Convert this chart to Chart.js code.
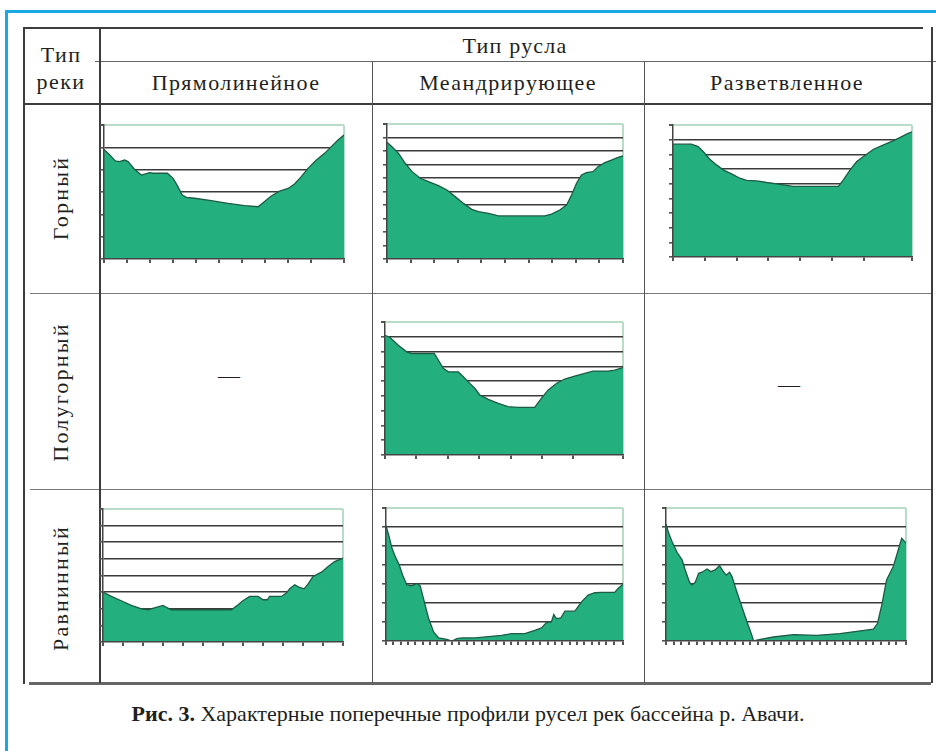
<!doctype html>
<html lang="ru">
<head>
<meta charset="utf-8">
<title>Поперечные профили русел</title>
<script src="https://cdn.jsdelivr.net/npm/chart.js@4"></script>
<style>
  body { margin:0; width:936px; height:751px; background:#fff; position:relative; overflow:hidden;
         font-family:"Liberation Serif","Tinos","Times New Roman","DejaVu Serif",serif; color:#231f20; }
  .ln { position:absolute; background:#3c3c3c; }
  .blue { position:absolute; background:#19a8e2; }
  .txt { position:absolute; font-size:22px; line-height:1; white-space:nowrap; transform:translate(-50%,-50%); letter-spacing:1.4px; }
  .rot { transform:translate(-50%,-50%) rotate(-90deg); letter-spacing:2.2px; }
  .cap { font-size:22px; letter-spacing:0; }
  canvas { position:absolute; }
</style>
</head>
<body>
<!-- frame -->
<div class="blue" style="left:5px;top:10px;width:931px;height:3px"></div>
<div class="blue" style="left:5px;top:10px;width:3px;height:741px"></div>

<!-- table lines -->
<div class="ln" style="left:23px;top:27px;width:900px;height:1.5px"></div>
<div class="ln" style="left:95px;top:61px;width:841px;height:1px;background:#666"></div>
<div class="ln" style="left:23px;top:103px;width:908px;height:1.5px"></div>
<div class="ln" style="left:30px;top:293px;width:901px;height:1px;background:#777"></div>
<div class="ln" style="left:30px;top:489px;width:901px;height:1px;background:#777"></div>
<div class="ln" style="left:29px;top:682px;width:902px;height:2.5px;background:#666"></div>
<div class="ln" style="left:23px;top:27px;width:1.5px;height:657px"></div>
<div class="ln" style="left:99px;top:27px;width:1.5px;height:656px"></div>
<div class="ln" style="left:372px;top:62px;width:1px;height:621px;background:#555"></div>
<div class="ln" style="left:644px;top:62px;width:1px;height:621px;background:#555"></div>
<div class="ln" style="left:931px;top:27px;width:1.5px;height:656px"></div>

<!-- header texts -->
<div class="txt" style="left:515px;top:46px;letter-spacing:1.2px">Тип русла</div>
<div class="txt" style="left:61px;top:55px">Тип</div>
<div class="txt" style="left:61px;top:82px">реки</div>
<div class="txt" style="left:236px;top:83px">Прямолинейное</div>
<div class="txt" style="left:508px;top:83px">Меандрирующее</div>
<div class="txt" style="left:787px;top:83px">Разветвленное</div>
<div class="txt rot" style="left:61px;top:198px">Горный</div>
<div class="txt rot" style="left:61px;top:392px">Полугорный</div>
<div class="txt rot" style="left:61px;top:588px">Равнинный</div>
<div class="txt" style="left:229px;top:376px;letter-spacing:0">—</div>
<div class="txt" style="left:789px;top:385px;letter-spacing:0">—</div>
<div class="txt cap" style="left:468px;top:714px"><b>Рис. 3.</b> Характерные поперечные профили русел рек бассейна р. Авачи.</div>

<canvas id="c1"></canvas>
<canvas id="c2"></canvas>
<canvas id="c3"></canvas>
<canvas id="c4"></canvas>
<canvas id="c5"></canvas>
<canvas id="c6"></canvas>
<canvas id="c7"></canvas>

<script>
// profile data: x = % of section width, y = height in grid steps
// Горный / Прямолинейное
var gpX = [0,2.4,4.7,6.5,8.6,10,12.8,15.6,19,20.4,26.4,28.8,30.8,32.5,34.3,37.8,44.7,51.7,58.6,64.2,66.9,69.7,73.2,76.7,79.4,82.2,85,88.5,91.9,94.7,97.5,100];
var gpY = [4.91,4.66,4.39,4.36,4.43,4.36,4.01,3.76,3.87,3.84,3.84,3.61,3.24,2.87,2.76,2.72,2.61,2.49,2.39,2.34,2.57,2.82,3.04,3.16,3.36,3.69,4.06,4.43,4.73,5.03,5.33,5.55];
// Горный / Меандрирующее
var gmX = [0,2.1,4.9,7.7,10.6,14.1,17.6,21.8,25.4,28.9,32.4,35.9,38.7,43,47.2,54.2,66.9,69.7,73.2,76.1,78.2,80.3,82.4,84.5,87.3,89.4,92.3,95.1,97.9,100];
var gmY = [8.64,8.32,7.83,7.09,6.47,5.98,5.73,5.43,5.11,4.62,4.12,3.68,3.51,3.38,3.19,3.19,3.19,3.33,3.63,4.0,4.74,5.6,6.22,6.4,6.47,6.84,7.14,7.33,7.53,7.63];
// Горный / Разветвленное
var grX = [0,7.7,10.5,12.6,15.4,18.2,21,24.5,28,30.8,35,39.2,43.4,50.3,57.3,69.2,71.3,74.1,76.9,79.7,83.9,88.1,92.3,95.1,97.9,100];
var grY = [7.69,7.69,7.53,7.19,6.67,6.28,5.94,5.67,5.37,5.22,5.19,5.08,4.99,4.81,4.81,4.81,5.26,5.94,6.51,6.85,7.35,7.64,7.94,8.16,8.39,8.53];
// Полугорный / Меандрирующее
var pmX = [0,2.1,5.6,9.1,11.2,15.4,20.7,22.4,24.5,26.6,30.8,32.9,35,37.8,39.9,43.4,47.6,51.7,55.9,62.9,65.7,68.5,72,75.5,79.7,83.9,87.4,93.7,96.5,100];
var pmY = [8.1,7.95,7.43,6.98,6.87,6.87,6.87,6.42,5.86,5.63,5.63,5.29,4.95,4.5,4.05,3.76,3.49,3.27,3.22,3.22,3.83,4.39,4.84,5.14,5.34,5.52,5.68,5.68,5.74,5.92];
// Равнинный / Прямолинейное
var rpX = [0,3.5,7.6,11.8,16,18.8,22.2,25,26.4,28.5,38.2,53.5,56.3,58.3,61.1,64.6,66.7,68.5,69.4,74.3,76.4,77.8,79.9,81.9,83.8,85.4,87.5,91,93.8,96.5,100];
var rpY = [3.0,2.74,2.48,2.2,2.0,1.94,2.08,2.2,2.08,1.94,1.94,1.94,2.24,2.48,2.74,2.74,2.54,2.54,2.74,2.74,2.94,3.2,3.44,3.28,3.2,3.48,3.94,4.2,4.54,4.84,5.04];
// Равнинный / Меандрирующее
var rmX = [0,1.1,2.5,3.9,5.6,7,8.8,10.9,13,14.4,15.8,18,20.1,22.2,25.7,27.8,29.9,32,37.6,43.2,48.8,53,58.6,62.8,65.6,67.7,69.8,70.8,71.9,73.8,75.5,79.7,82.5,85.3,88.1,90.9,96.5,97.9,100];
var rmY = [6.08,5.59,4.89,4.44,4.0,3.47,2.95,2.91,3.03,2.91,2.24,1.18,0.48,0.16,0.09,0,0.12,0.16,0.16,0.23,0.3,0.39,0.39,0.56,0.69,0.97,1.01,1.39,1.18,1.22,1.57,1.57,2.06,2.42,2.54,2.56,2.56,2.77,2.98];
// Равнинный / Разветвленное
var rrX = [0,1.1,2.5,4.6,6.7,8,9.8,10.8,12.2,13.6,15,17.1,18.7,20.5,22.3,23.7,25.1,26.5,27.5,29.5,31.6,34,35.4,36.5,39.3,44.8,53.1,62.8,72.5,79.5,86.4,88.1,89.9,91.9,94.7,96.8,98.2,99.2,100];
var rrY = [6.16,5.68,5.24,4.67,4.27,3.74,3.09,2.95,3.09,3.56,3.62,3.79,3.65,3.74,3.97,3.69,3.47,3.62,3.39,2.59,1.8,0.92,0.44,0,0.09,0.21,0.34,0.3,0.39,0.51,0.62,0.92,1.89,3.21,3.92,4.8,5.41,5.27,5.15];

var borderLight = '#b8dcc8';

function makeProfile(id, box, xs, ys, yMax, xStep) {
  var cv = document.getElementById(id);
  cv.width = box.w + 8;
  cv.height = box.h + 8;
  cv.style.left = (box.left - 6) + 'px';
  cv.style.top = (box.top - 2) + 'px';
  var pts = xs.map(function(x, i) { return { x: x, y: ys[i] }; });
  new Chart(cv, {
    type: 'line',
    data: { datasets: [{
      data: pts,
      fill: 'origin',
      backgroundColor: '#23af7e',
      borderColor: '#1c5c45',
      borderWidth: 1.3,
      pointRadius: 0,
      tension: 0
    }] },
    options: {
      responsive: false,
      animation: false,
      layout: { padding: { top: 2, right: 2, left: 0, bottom: 0 } },
      plugins: { legend: { display: false }, tooltip: { enabled: false } },
      scales: {
        x: {
          type: 'linear', min: 0, max: 100,
          ticks: { display: false, stepSize: xStep, maxTicksLimit: 1000 },
          grid: {
            color: function(c) { return c.tick && c.tick.value === 100 ? borderLight : 'rgba(0,0,0,0)'; },
            lineWidth: 2, tickColor: '#555', tickLength: 4
          },
          border: { color: '#444', width: 1.5, z: 1 },
          afterFit: function(s) { s.height = 6; }
        },
        y: {
          type: 'linear', min: 0, max: yMax,
          ticks: { display: false, stepSize: 1, maxTicksLimit: 1000 },
          grid: {
            color: function(c) {
              if (!c.tick) return '#3b3b3b';
              if (c.tick.value === yMax) return borderLight;
              if (c.tick.value === 0) return 'rgba(0,0,0,0)';
              return '#3b3b3b';
            },
            lineWidth: function(c) { return c.tick && c.tick.value === yMax ? 2 : 1.6; },
            tickColor: '#555', tickLength: 4
          },
          border: { color: '#444', width: 1.5, z: 1 },
          afterFit: function(s) { s.width = 6; }
        }
      }
    }
  });
}

makeProfile('c1', { left: 104, top: 125, w: 240, h: 134 }, gpX, gpY, 6, 9.6);
makeProfile('c2', { left: 387, top: 124, w: 236, h: 135 }, gmX, gmY, 10, 10);
makeProfile('c3', { left: 673, top: 125, w: 239, h: 132 }, grX, grY, 9, 13.3);
makeProfile('c4', { left: 385, top: 322, w: 238, h: 133 }, pmX, pmY, 9, 13.2);
makeProfile('c5', { left: 103, top: 509, w: 240, h: 133 }, rpX, rpY, 8, 8.33);
makeProfile('c6', { left: 386, top: 508, w: 237, h: 133 }, rmX, rmY, 7, 3.1);
makeProfile('c7', { left: 666, top: 508, w: 240, h: 133 }, rrX, rrY, 7, 3.2);
</script>
</body>
</html>
